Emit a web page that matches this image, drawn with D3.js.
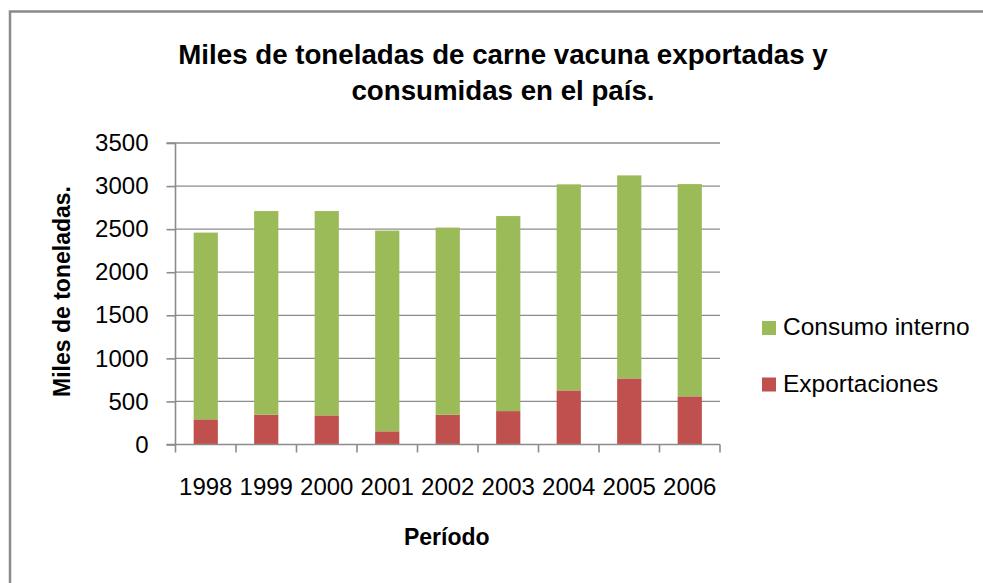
<!DOCTYPE html>
<html>
<head>
<meta charset="utf-8">
<script src="https://cdn.jsdelivr.net/npm/d3@7"></script>
<style>
  html, body { margin: 0; padding: 0; background: #fff; overflow: hidden; }
  svg { display: block; }
</style>
</head>
<body>
<svg id="chart" width="983" height="583"></svg>
<script>
const years = ["1998","1999","2000","2001","2002","2003","2004","2005","2006"];
const exportaciones = [292, 345, 338, 153, 345, 388, 628, 767, 559];
const consumoInterno = [2168, 2365, 2372, 2330, 2173, 2264, 2392, 2357, 2464];
const yTicks = [0, 500, 1000, 1500, 2000, 2500, 3000, 3500];
const seriesNames = ["Exportaciones", "Consumo interno"];
const seriesColors = ["#C0504D", "#9BBB59"];

const FONT = "'Liberation Sans', Arial, sans-serif";
const svg = d3.select("#chart");

// outer chart border (right and bottom edges fall outside the view)
svg.append("rect")
  .attr("x", 10).attr("y", 11.5).attr("width", 1200).attr("height", 800)
  .attr("fill", "#fff").attr("stroke", "#8a8a8a").attr("stroke-width", 2.5);

const plot = { left: 175.5, right: 720, top: 143, bottom: 444.5 };

const x = d3.scaleBand().domain(years)
  .range([plot.left, plot.right]).paddingInner(0.6).paddingOuter(0.3);
const y = d3.scaleLinear().domain([0, 3500]).range([plot.bottom, plot.top]);

// gridlines
svg.append("g").selectAll("line").data(yTicks.filter(d => d > 0)).join("line")
  .attr("x1", plot.left).attr("x2", plot.right)
  .attr("y1", d => y(d)).attr("y2", d => y(d))
  .attr("stroke", "#8c8c8c").attr("stroke-width", 1.3);

// stacked bars
const rows = years.map((yr, i) => ({ year: yr, "Exportaciones": exportaciones[i], "Consumo interno": consumoInterno[i] }));
const stack = d3.stack().keys(seriesNames)(rows);
svg.append("g").selectAll("g").data(stack).join("g")
  .attr("fill", (d, i) => seriesColors[i])
  .selectAll("rect").data(d => d).join("rect")
  .attr("x", d => x(d.data.year))
  .attr("width", x.bandwidth())
  .attr("y", d => y(d[1]))
  .attr("height", d => y(d[0]) - y(d[1]));

// y axis
const yAxis = d3.axisLeft(y).tickValues(yTicks).tickSize(9).tickPadding(18).tickFormat(d3.format("d"));
const gy = svg.append("g").attr("transform", `translate(${plot.left},0)`).call(yAxis);
gy.select(".domain").attr("stroke", "#8c8c8c").attr("stroke-width", 1.6).attr("d", `M-9,${plot.top}H0V${plot.bottom}`);
gy.selectAll(".tick line").attr("stroke", "#8c8c8c").attr("stroke-width", 1.6);
gy.selectAll(".tick text").attr("font-family", FONT).attr("font-size", 24).attr("fill", "#000");

// x axis
const xAxis = d3.axisBottom(x).tickSize(0).tickPadding(33);
const gx = svg.append("g").attr("transform", `translate(0,${plot.bottom})`).call(xAxis);
gx.select(".domain").attr("stroke", "#8c8c8c").attr("stroke-width", 1.6).attr("d", `M${plot.left - 9},0H${plot.right}`);
gx.selectAll(".tick text").attr("font-family", FONT).attr("font-size", 24).attr("fill", "#000");
// category boundary ticks
const step = x.step();
const bounds = years.map(yr => x(yr) - (step - x.bandwidth()) / 2).concat([plot.right]);
gx.append("g").selectAll("line").data(bounds).join("line")
  .attr("x1", d => d).attr("x2", d => d).attr("y1", 0).attr("y2", 8)
  .attr("stroke", "#8c8c8c").attr("stroke-width", 1.6);

// title
const title = svg.append("text").attr("text-anchor", "middle")
  .attr("font-family", FONT).attr("font-weight", "bold").attr("font-size", 27.7).attr("fill", "#000");
title.append("tspan").attr("x", 503).attr("y", 64).text("Miles de toneladas de carne vacuna exportadas y");
title.append("tspan").attr("x", 503).attr("y", 100).text("consumidas en el país.");

// axis titles
svg.append("text").attr("x", (plot.left + plot.right) / 2 - 1).attr("y", 545)
  .attr("text-anchor", "middle").attr("font-family", FONT).attr("font-weight", "bold")
  .attr("font-size", 23).attr("fill", "#000").text("Período");
svg.append("text").attr("transform", "translate(70,291.5) rotate(-90)")
  .attr("text-anchor", "middle").attr("font-family", FONT).attr("font-weight", "bold")
  .attr("font-size", 23).attr("fill", "#000").text("Miles de toneladas.");

// legend
const legendItems = [{ name: "Consumo interno", color: seriesColors[1] }, { name: "Exportaciones", color: seriesColors[0] }];
const lg = svg.append("g").selectAll("g").data(legendItems).join("g")
  .attr("transform", (d, i) => `translate(762,${335 + i * 56.5})`);
lg.append("rect").attr("x", 0).attr("y", -14).attr("width", 14).attr("height", 14).attr("fill", d => d.color);
lg.append("text").attr("x", 21).attr("y", 0).attr("font-family", FONT).attr("font-size", 24.5)
  .attr("fill", "#000").text(d => d.name);
</script>
</body>
</html>
